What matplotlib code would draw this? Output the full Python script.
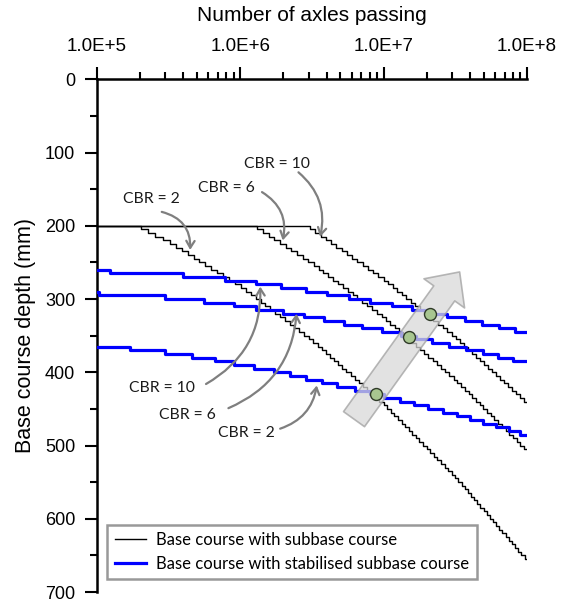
import numpy as np
import matplotlib
matplotlib.use('Agg')
import matplotlib.pyplot as plt
from matplotlib.ticker import LogLocator, FuncFormatter, MultipleLocator, NullFormatter

plt.rcParams['font.family'] = ['Liberation Sans', 'DejaVu Sans']

# base course over ordinary subbase: points (axles, depth mm)
cbr2_axles = [2.03e5, 3.16e5, 1.0e6, 3.16e6, 1.0e7, 3.16e7, 1.0e8]
cbr2_depth = [200, 219, 279, 353, 440, 540, 654]
cbr6_axles = [1.32e6, 3.16e6, 1.0e7, 3.16e7, 1.0e8]
cbr6_depth = [200, 248, 322, 407, 504]
cbr10_axles = [3.07e6, 1.0e7, 3.16e7, 1.0e8]
cbr10_depth = [200, 270, 349, 439]

# base course over stabilised subbase: where each 5 mm step starts
stab10_axles = [1.0e5, 1.24e5, 4.0e5, 7.8e5, 1.28e6, 1.94e6, 2.90e6, 4.04e6, 5.78e6,
                8.09e6, 1.15e7, 1.58e7, 2.08e7, 2.77e7, 3.72e7, 4.86e7, 6.35e7, 8.30e7]
stab10_depth = [260, 265, 270, 275, 280, 285, 290, 295, 300,
                305, 310, 315, 320, 325, 330, 335, 340, 345]
stab6_axles = [1.0e5, 1.03e5, 3.01e5, 5.62e5, 9.02e5, 1.28e6, 1.98e6, 2.78e6, 3.83e6, 5.27e6,
               7.08e6, 9.77e6, 1.33e7, 1.67e7, 2.19e7, 2.84e7, 3.76e7, 4.92e7, 6.31e7, 7.94e7]
stab6_depth = [290, 295, 300, 305, 310, 315, 320, 325, 330, 335,
               340, 345, 350, 355, 360, 365, 370, 375, 380, 385]
stab2_axles = [1.0e5, 1.71e5, 3.01e5, 4.62e5, 6.71e5, 9.02e5, 1.24e6, 1.71e6, 2.22e6, 2.90e6,
               3.72e6, 4.74e6, 6.32e6, 8.05e6, 1.01e7, 1.30e7, 1.63e7, 2.04e7, 2.60e7, 3.26e7,
               4.02e7, 4.94e7, 6.10e7, 7.52e7, 8.95e7]
stab2_depth = [365, 370, 375, 380, 385, 390, 395, 400, 405, 410,
               415, 420, 425, 430, 435, 440, 445, 450, 455, 460,
               465, 470, 475, 480, 485]

# crossing points
cross_axles = [2.11e7, 1.50e7, 8.87e6]
cross_depth = [320, 352, 429]

N_MIN, N_MAX = 1e5, 1e8


def stairs(axles, depth, step=5):
    # thickness goes up in 5 mm steps
    logn = np.log10(axles)
    lev = np.arange(depth[0], depth[-1], step)
    n = 10 ** np.interp(lev, depth, logn)
    x = np.concatenate([[N_MIN], n, [N_MAX]])
    y = np.concatenate([[depth[0]], lev + step, [lev[-1] + step]])
    return x, y


fig = plt.figure(figsize=(5.71, 6.03), dpi=100)
ax = fig.add_axes([0.1694, 0.0182, 0.7536, 0.8503])

first = True
for a, d in [(cbr2_axles, cbr2_depth), (cbr6_axles, cbr6_depth), (cbr10_axles, cbr10_depth)]:
    x, y = stairs(a, d)
    ax.plot(x, y, drawstyle='steps-post', color='black', lw=1.0,
            label='Base course with subbase course' if first else None, zorder=3)
    first = False

first = True
for a, d in [(stab10_axles, stab10_depth), (stab6_axles, stab6_depth), (stab2_axles, stab2_depth)]:
    ax.plot(list(a) + [N_MAX], list(d) + [d[-1]], drawstyle='steps-post', color='#0000ff', lw=2.3,
            label='Base course with stabilised subbase course' if first else None, zorder=3)
    first = False

# big trend arrow
ax.annotate('', xy=(3.39e7, 263), xytext=(6.22e6, 464),
            arrowprops=dict(arrowstyle='simple,head_length=0.95,head_width=1.8,tail_width=0.93',
                            mutation_scale=20, fc='#d9d9d9', ec='#a0a0a0', lw=1.2, alpha=0.75,
                            shrinkA=0, shrinkB=0), zorder=4)

ax.plot(cross_axles, cross_depth, 'o', ms=8.6, mfc='#a8c690', mec='#2f3a28', mew=1.0, zorder=5)

# CBR labels and pointers
lab_font = dict(family=['Lato', 'DejaVu Sans'], fontsize=11.3, ha='center', va='center', color='#1a1a1a')
labels = [
    ('CBR = 2', (2.42e5, 164), (2.84e5, 181), (4.48e5, 233), -0.4),
    ('CBR = 6', (7.98e5, 149), (1.42e6, 154), (1.98e6, 220), -0.35),
    ('CBR = 10', (1.80e6, 116), (2.55e6, 127), (3.61e6, 215), -0.3),
    ('CBR = 10', (2.84e5, 422), (5.78e5, 416), (1.38e6, 283), 0.3),
    ('CBR = 6', (4.29e5, 458), (8.28e5, 449), (2.47e6, 320), 0.3),
    ('CBR = 2', (1.11e6, 483), (1.90e6, 477), (3.42e6, 418), 0.3),
]
for txt, pos, tail, tip, rad in labels:
    ax.text(pos[0], pos[1], txt, **lab_font)
    ax.annotate('', xy=tip, xytext=tail,
                arrowprops=dict(arrowstyle='->,head_length=0.5,head_width=0.3', color='#7f7f7f',
                                lw=1.6, shrinkA=0, shrinkB=0,
                                connectionstyle='arc3,rad=%s' % rad))

ax.set_xscale('log')
ax.set_xlim(N_MIN, N_MAX)
ax.set_ylim(700, 0)

ax.xaxis.tick_top()
ax.xaxis.set_label_position('top')
ax.xaxis.set_major_locator(LogLocator(base=10))
ax.xaxis.set_minor_locator(LogLocator(base=10, subs=np.arange(2, 10)))
ax.xaxis.set_minor_formatter(NullFormatter())
ax.xaxis.set_major_formatter(FuncFormatter(lambda v, p: '1.0E+%d' % int(round(np.log10(v)))))
ax.yaxis.set_major_locator(MultipleLocator(100))
ax.yaxis.set_minor_locator(MultipleLocator(50))

for s in ['right', 'bottom']:
    ax.spines[s].set_visible(False)
for s in ['left', 'top']:
    ax.spines[s].set_linewidth(1.8)

ax.tick_params(which='major', length=8.5, width=1.5, labelsize=13)
ax.tick_params(axis='x', which='major', labelsize=13.5, pad=9)
ax.tick_params(which='minor', length=5, width=1.5)
ax.tick_params(axis='y', which='major', pad=7)

ax.set_xlabel('Number of axles passing', fontsize=15, labelpad=12)
ax.set_ylabel('Base course depth (mm)', fontsize=15.5, labelpad=6)

leg = ax.legend(loc='lower left', bbox_to_anchor=(0.024, 0.025), frameon=True, fancybox=False,
                prop={'family': ['Lato', 'DejaVu Sans'], 'size': 12}, handlelength=1.9,
                handletextpad=0.6, labelspacing=0.45, borderpad=0.45, borderaxespad=0)
leg.get_frame().set_edgecolor('#808080')
leg.get_frame().set_linewidth(1.8)

fig.savefig('out.png', dpi=100)
